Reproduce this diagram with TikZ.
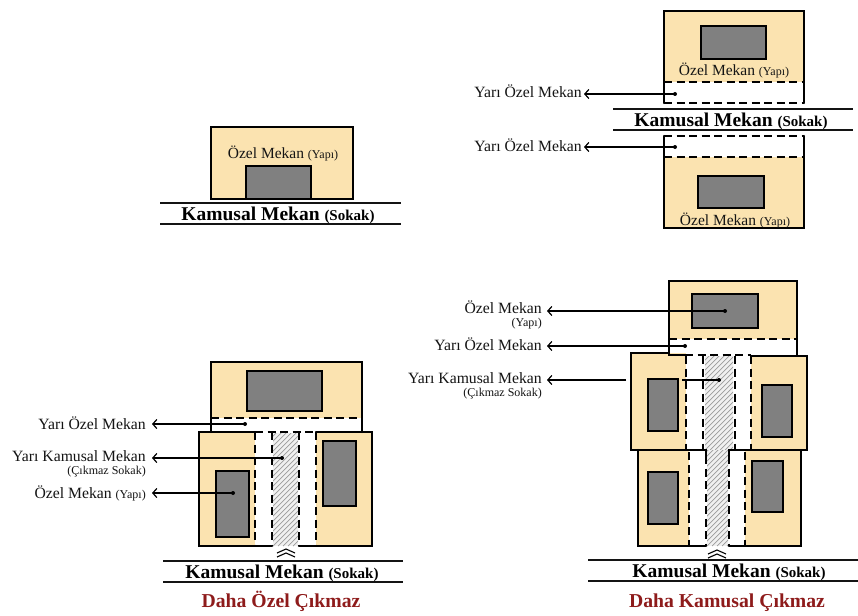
\documentclass[tikz,border=0pt]{standalone}
\usepackage{fontspec}
\setmainfont{Liberation Serif}
\usetikzlibrary{arrows.meta}
\definecolor{beige}{HTML}{FBE3B0}
\definecolor{grayblock}{HTML}{808080}
\definecolor{ink}{HTML}{141414}
\definecolor{titlered}{HTML}{8E1B1B}
\definecolor{hatchc}{HTML}{9A9A9A}
\tikzset{
  wall/.style={draw=black,line width=2.3pt,line cap=round,line join=miter},
  bound/.style={draw=black,line width=2.1pt,dash pattern=on 8pt off 4.5pt},
  bfill/.style={fill=beige,draw=none},
  block/.style={fill=grayblock,draw=black,line width=2.2pt},
  road/.style={draw=ink,line width=1.2pt},
  lab/.style={inner sep=0pt,anchor=base east,yshift=-5pt,font=\fontsize{15.7}{15.7}\selectfont,text=ink},
  sublab/.style={inner sep=0pt,anchor=base east,yshift=-3.5pt,font=\fontsize{12}{12}\selectfont,text=ink},
  inlab/.style={inner sep=0pt,anchor=base,yshift=-5pt,font=\fontsize{15.5}{15.5}\selectfont,text=ink},
  roadlab/.style={inner sep=0pt,anchor=base,yshift=-6pt,font=\bfseries\fontsize{19.5}{20}\selectfont,text=black},
  ttl/.style={inner sep=0pt,anchor=base,yshift=-5.5pt,font=\bfseries\fontsize{19.7}{20}\selectfont,text=titlered},
  lead/.style={draw=black,line width=1.2pt,-{Straight Barb[length=4pt,width=9pt,line width=1.2pt]}},
  plainlead/.style={draw=black,line width=1.2pt},
  dot/.style={circle,fill=black,inner sep=0pt,minimum size=4pt},
  chev/.style={draw=black,line width=1.1pt}
}
\newcommand{\hatchbox}[4]{%
  \begin{scope}
    \clip (#1,#2) rectangle (#3,#4);
    \fill[black!6] (#1,#2) rectangle (#3,#4);
    \foreach \k in {-120,-115,...,60}{\draw[hatchc,line width=0.7pt] (#1+\k,#4) -- ++(120,-120);}
  \end{scope}}
\newcommand{\smallp}[1]{{\fontsize{12}{12}\selectfont #1}}
\newcommand{\roadp}[1]{{\fontsize{15}{15}\selectfont #1}}
\begin{document}
\begin{tikzpicture}[x=1pt,y=-1pt]
\useasboundingbox (0,0) rectangle (858,615);
\fill[white] (0,0) rectangle (858,615);

% ---- top left
\fill[bfill] (211,127) rectangle (353,199);
\draw[wall] (211,127) rectangle (353,199);
\draw[block] (246,166) rectangle (311,199);
\node[inlab] (tlname) at (283,153) {Özel Mekan \smallp{(Yapı)}};
\draw[road] (160,203) -- (401,203);
\draw[road] (160,224) -- (401,224);
\node[roadlab] (tlroad) at (278,214) {Kamusal Mekan \roadp{(Sokak)}};

% ---- top right
\fill[bfill] (664,11) rectangle (804,82);
\draw[wall] (664,103) -- (664,11) -- (804,11) -- (804,103);
\draw[bound] (664,82) -- (804,82);
\draw[bound] (664,103) -- (804,103);
\draw[block] (701,26) rectangle (766,59);
\node[inlab] (trnamea) at (734,71) {Özel Mekan \smallp{(Yapı)}};
\draw[road] (613,109) -- (853,109);
\draw[road] (613,130) -- (853,130);
\node[roadlab] (trroad) at (731,120) {Kamusal Mekan \roadp{(Sokak)}};
\fill[bfill] (664,157) rectangle (804,228);
\draw[wall] (664,136) -- (664,228) -- (804,228) -- (804,136);
\draw[bound] (664,136) -- (804,136);
\draw[bound] (664,157) -- (804,157);
\draw[block] (698,176) rectangle (764,208);
\node[inlab] (trnameb) at (735,220) {Özel Mekan \smallp{(Yapı)}};
\node[lab] (tryoa) at (582,93) {Yarı Özel Mekan};
\node[lab] (tryob) at (582,146) {Yarı Özel Mekan};
\node[dot] (tra) at (675,94) {};
\node[dot] (trb) at (675,147) {};
\coordinate (traend) at (584,94);
\coordinate (trbend) at (584,147);
\draw[lead] (tra.center) -- (traend);
\draw[lead] (trb.center) -- (trbend);

% ---- bottom left
\fill[bfill] (211,362) rectangle (362,418);
\fill[bfill] (199,432) rectangle (372,546);
\fill[white] (255,432) rectangle (316,546);
\hatchbox{273}{433}{298}{546}
\draw[wall] (211,432) -- (211,362) -- (362,362) -- (362,432);
\draw[bound] (211,418) -- (362,418);
\draw[wall] (255,432) -- (199,432) -- (199,546) -- (272,546);
\draw[wall] (316,432) -- (372,432) -- (372,546) -- (299,546);
\draw[bound] (255,432) -- (316,432);
\draw[bound] (255,432) -- (255,546);
\draw[bound] (272,432) -- (272,546);
\draw[bound] (299,432) -- (299,546);
\draw[bound] (316,432) -- (316,546);
\draw[block] (247,371) rectangle (322,411);
\draw[block] (216,471) rectangle (249,537);
\draw[block] (323,441) rectangle (356,506);
\node[lab] (blyo) at (146,424) {Yarı Özel Mekan};
\node[lab] (blyk) at (146,456) {Yarı Kamusal Mekan};
\node[sublab] (blyks) at (146,471) {(Çıkmaz Sokak)};
\node[lab] (blo) at (146,493) {Özel Mekan \smallp{(Yapı)}};
\node[dot] (bla) at (245,424) {};
\node[dot] (blb) at (282,458) {};
\node[dot] (blc) at (233,493) {};
\coordinate (blaend) at (152,424);
\coordinate (blbend) at (152,458);
\coordinate (blcend) at (152,493);
\draw[lead] (bla.center) -- (blaend);
\draw[lead] (blb.center) -- (blbend);
\draw[lead] (blc.center) -- (blcend);
\draw[chev] (277,553) -- (286,549) -- (295,553);
\draw[chev] (277,557) -- (286,553) -- (295,557);
\draw[road] (163,561) -- (403,561);
\draw[road] (163,582) -- (403,582);
\node[roadlab] (blroad) at (282,572) {Kamusal Mekan \roadp{(Sokak)}};
\node[ttl] (blt) at (281,602) {Daha Özel Çıkmaz};

% ---- bottom right
\fill[bfill] (669,281) rectangle (797,339);
\fill[bfill] (631,353) rectangle (686,450);
\fill[bfill] (751,356) rectangle (807,450);
\fill[bfill] (638,450) rectangle (689,546);
\fill[bfill] (745,450) rectangle (801,546);
\fill[white] (686,356) rectangle (751,450);
\fill[white] (689,450) rectangle (745,546);
\hatchbox{705}{356}{733}{450}
\hatchbox{707}{450}{728}{546}
\draw[wall] (685,355) -- (669,355) -- (669,281) -- (797,281) -- (797,355);
\draw[bound] (685,355) -- (751,355);
\draw[bound] (669,339) -- (797,339);
\draw[wall] (669,353) -- (631,353) -- (631,450) -- (706,450) -- (706,456);
\draw[wall] (751,356) -- (807,356) -- (807,450) -- (729,450) -- (729,456);
\draw[wall] (638,450) -- (638,546) -- (706,546);
\draw[wall] (729,546) -- (801,546) -- (801,450);
\draw[bound] (686,356) -- (686,450);
\draw[bound] (703,356) -- (703,450);
\draw[bound] (735,356) -- (735,450);
\draw[bound] (751,356) -- (751,450);
\draw[bound] (689,452) -- (689,546);
\draw[bound] (706,456) -- (706,546);
\draw[bound] (729,456) -- (729,546);
\draw[bound] (745,452) -- (745,546);
\draw[block] (692,294) rectangle (758,328);
\draw[block] (648,379) rectangle (678,431);
\draw[block] (762,385) rectangle (792,437);
\draw[block] (648,472) rectangle (678,524);
\draw[block] (752,461) rectangle (783,512);
\node[lab] (bro) at (542,308) {Özel Mekan};
\node[sublab] (bros) at (542,323) {(Yapı)};
\node[lab] (bryo) at (542,345) {Yarı Özel Mekan};
\node[lab] (bryk) at (542,378) {Yarı Kamusal Mekan};
\node[sublab] (bryks) at (542,393) {(Çıkmaz Sokak)};
\node[dot] (bra) at (725,311) {};
\node[dot] (brb) at (685,346) {};
\node[dot] (brc) at (719,380) {};
\coordinate (braend) at (547,311);
\coordinate (brbend) at (547,346);
\coordinate (brcend) at (547,380);
\coordinate (brcgapa) at (626,380);
\coordinate (brcgapb) at (682,380);
\draw[lead] (bra.center) -- (braend);
\draw[lead] (brb.center) -- (brbend);
\draw[lead] (brcgapa) -- (brcend);
\draw[plainlead] (brc.center) -- (brcgapb);
\draw[chev] (708,554) -- (717,550) -- (726,554);
\draw[chev] (708,558) -- (717,554) -- (726,558);
\draw[road] (588,560) -- (858,560);
\draw[road] (588,581) -- (858,581);
\node[roadlab] (brroad) at (729,571) {Kamusal Mekan \roadp{(Sokak)}};
\node[ttl] (brt) at (727,602) {Daha Kamusal Çıkmaz};
\end{tikzpicture}
\end{document}
